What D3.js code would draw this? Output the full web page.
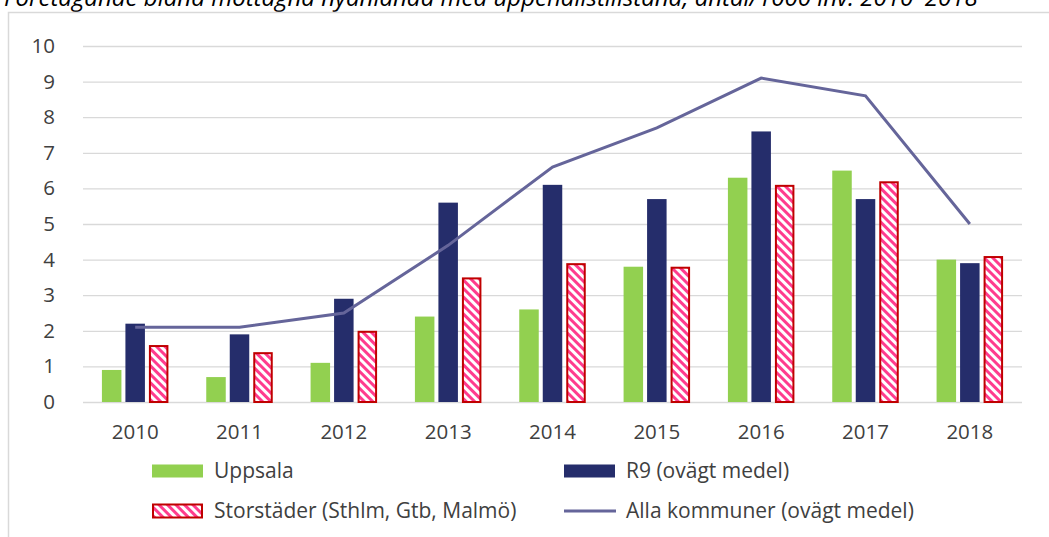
<!DOCTYPE html>
<html>
<head>
<meta charset="utf-8">
<script src="https://cdn.jsdelivr.net/npm/d3@7"></script>
<style>
  body { margin: 0; background: #fff; }
  svg { display: block; font-family: "Open Sans", sans-serif; }
</style>
</head>
<body>
<div id="chart"></div>
<script>
var years = ['2010', '2011', '2012', '2013', '2014', '2015', '2016', '2017', '2018'];
var uppsala = [0.9, 0.7, 1.1, 2.4, 2.6, 3.8, 6.3, 6.5, 4.0];
var r9 = [2.2, 1.9, 2.9, 5.6, 6.1, 5.7, 7.6, 5.7, 3.9];
var storstader = [1.6, 1.4, 2.0, 3.5, 3.9, 3.8, 6.1, 6.2, 4.1];
var allaKommuner = [2.1, 2.1, 2.5, 4.4, 6.6, 7.7, 9.1, 8.6, 5.0];
var yTicks = [0, 1, 2, 3, 4, 5, 6, 7, 8, 9, 10];

var seriesNames = ['Uppsala', 'R9 (ovägt medel)', 'Storstäder (Sthlm, Gtb, Malmö)', 'Alla kommuner (ovägt medel)'];
var titleText = 'Företagande bland mottagna nyanlända med uppehållstillstånd, antal/1000 inv. 2010–2018';

var svgWidth = 1049;
var svgHeight = 537;

var svg = d3.select("#chart")
  .append("svg")
  .attr("width", svgWidth)
  .attr("height", svgHeight);

// pattern for the striped bars
var defs = svg.append("defs");
var pat = defs.append("pattern")
  .attr("id", "stripes")
  .attr("patternUnits", "userSpaceOnUse")
  .attr("width", 6)
  .attr("height", 6)
  .attr("patternTransform", "rotate(-45)");
pat.append("rect").attr("width", 6).attr("height", 6).attr("fill", "#fff");
pat.append("rect").attr("width", 3).attr("height", 6).attr("fill", "#ff3c8e");

// title, mostly clipped off the top
svg.append("text")
  .attr("x", 4)
  .attr("y", 6)
  .attr("font-style", "italic")
  .attr("font-size", 24)
  .attr("fill", "#000")
  .text(titleText);

// chart frame
svg.append("rect")
  .attr("x", 8.5)
  .attr("y", 12.5)
  .attr("width", 1060)
  .attr("height", 560)
  .attr("fill", "none")
  .attr("stroke", "#d9d9d9")
  .attr("stroke-width", 1.5);

var margin = { top: 46, left: 83, right: 27 };
var chartWidth = svgWidth - margin.left - margin.right;
var zeroY = 402;

var xScale = d3.scaleBand()
  .domain(years)
  .range([0, chartWidth]);

var yScale = d3.scaleLinear()
  .domain([0, 10])
  .range([zeroY - margin.top, 0]);

var chart = svg.append("g")
  .attr("transform", "translate(" + margin.left + "," + margin.top + ")");

// grid
var yAxis = d3.axisLeft(yScale)
  .tickValues(yTicks)
  .tickSize(-chartWidth)
  .tickPadding(28)
  .tickFormat(d3.format("d"));

var yG = chart.append("g")
  .attr("class", "y axis")
  .call(yAxis);
yG.select(".domain").remove();
yG.selectAll(".tick line").attr("stroke", "#d9d9d9").attr("stroke-width", 1.3);
yG.selectAll(".tick text")
  .attr("font-size", 20.5)
  .attr("fill", "#404040")
  .attr("font-family", "'Open Sans', sans-serif");

var xAxis = d3.axisBottom(xScale).tickSize(0).tickPadding(22);
var xG = chart.append("g")
  .attr("class", "x axis")
  .attr("transform", "translate(0," + yScale(0) + ")")
  .call(xAxis);
xG.select(".domain").remove();
xG.selectAll(".tick text")
  .attr("font-size", 20.5)
  .attr("fill", "#404040")
  .attr("font-family", "'Open Sans', sans-serif");

var barW = 19.5;
var step = 23.5;
var groups = [
  { values: uppsala, fill: "#92d050", stroke: "none", off: -1 },
  { values: r9, fill: "#252d6b", stroke: "none", off: 0 },
  { values: storstader, fill: "url(#stripes)", stroke: "#c00000", off: 1 }
];

groups.forEach(function (g) {
  chart.selectAll(null)
    .data(g.values)
    .enter()
    .append("rect")
    .attr("x", (d, i) => xScale(years[i]) + xScale.bandwidth() / 2 + g.off * step - barW / 2 + (g.stroke !== "none" ? 1 : 0))
    .attr("y", d => yScale(d) + (g.stroke !== "none" ? 1 : 0))
    .attr("width", barW - (g.stroke !== "none" ? 2 : 0))
    .attr("height", d => yScale(0) - yScale(d) - (g.stroke !== "none" ? 1 : 0))
    .attr("fill", g.fill)
    .attr("stroke", g.stroke)
    .attr("stroke-width", 2);
});

var line = d3.line()
  .x((d, i) => xScale(years[i]) + xScale.bandwidth() / 2)
  .y(d => yScale(d));

chart.append("path")
  .datum(allaKommuner)
  .attr("d", line)
  .attr("fill", "none")
  .attr("stroke", "#65659a")
  .attr("stroke-width", 3);

// legend
var legend = svg.append("g").attr("font-size", 21).attr("fill", "#404040");
var legendItems = [
  { name: seriesNames[0], x: 152, y: 471, type: "bar", fill: "#92d050", stroke: "none" },
  { name: seriesNames[1], x: 564, y: 471, type: "bar", fill: "#252d6b", stroke: "none" },
  { name: seriesNames[2], x: 152, y: 511, type: "bar", fill: "url(#stripes)", stroke: "#c00000" },
  { name: seriesNames[3], x: 564, y: 511, type: "line", fill: "#65659a" }
];
legendItems.forEach(function (it) {
  if (it.type === "bar") {
    legend.append("rect")
      .attr("x", it.x + (it.stroke !== "none" ? 1 : 0))
      .attr("y", it.y - 6.5)
      .attr("width", 51 - (it.stroke !== "none" ? 2 : 0))
      .attr("height", 13)
      .attr("fill", it.fill)
      .attr("stroke", it.stroke)
      .attr("stroke-width", 2);
  } else {
    legend.append("line")
      .attr("x1", it.x).attr("x2", it.x + 52)
      .attr("y1", it.y).attr("y2", it.y)
      .attr("stroke", it.fill)
      .attr("stroke-width", 3);
  }
  legend.append("text")
    .attr("x", it.x + 62)
    .attr("y", it.y)
    .attr("dy", "0.35em")
    .text(it.name);
});
</script>
</body>
</html>
